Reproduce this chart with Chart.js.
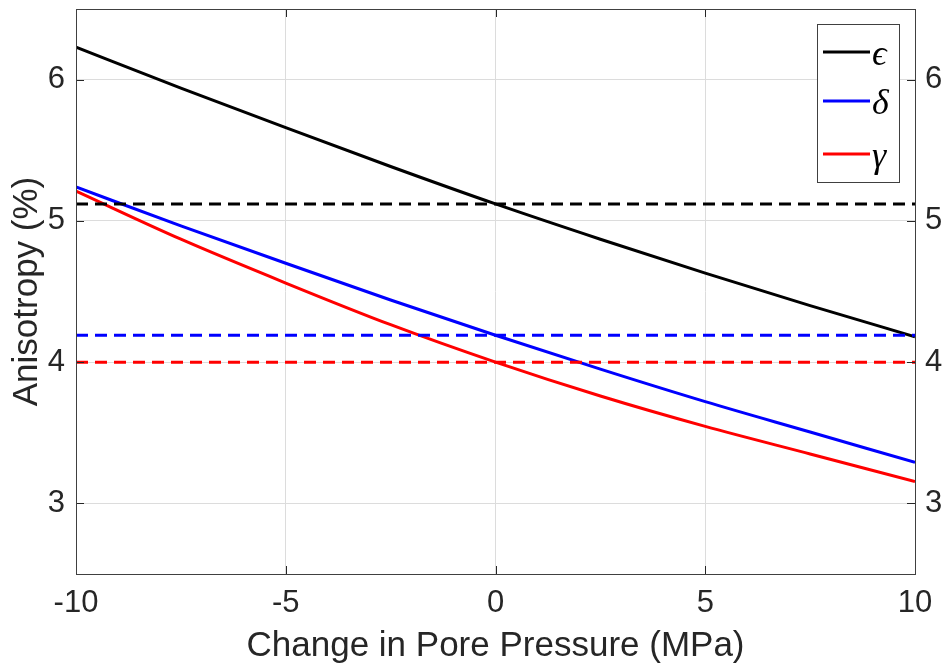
<!DOCTYPE html>
<html>
<head>
<meta charset="utf-8">
<script src="https://cdn.jsdelivr.net/npm/chart.js@4/dist/chart.umd.min.js"></script>
<style>
html,body{margin:0;padding:0;background:#fff;}
#wrap{width:945px;height:667px;position:relative;}
</style>
</head>
<body>
<div id="wrap"><canvas id="c" width="945" height="667"></canvas></div>
<script>
// ---- data ----
const pressure = [-10, -7.5, -5, -2.5, 0, 2.5, 5, 7.5, 10];
const epsilonVals = [6.23, 5.94, 5.66, 5.385, 5.12, 4.87, 4.63, 4.40, 4.18];
const deltaVals   = [5.24, 4.965, 4.70, 4.44, 4.19, 3.95, 3.72, 3.505, 3.29];
const gammaVals   = [5.21, 4.87, 4.56, 4.265, 4.00, 3.76, 3.545, 3.35, 3.155];
const refX = [-10, 10];
const epsilonRef = 5.12;
const deltaRef = 4.19;
const gammaRef = 4.00;
const seriesLabels = ['\u03F5', '\u03B4', '\u03B3'];
const xTicks = [-10, -5, 0, 5, 10];
const yTicks = [3, 4, 5, 6];

const COLORS = ['#000000', '#0000ff', '#ff0000'];
const TXT = '#262626';
const GRID = '#dcdcdc';
const FONT = '"Liberation Sans", Arial, sans-serif';

function pts(xs, ys){ return xs.map((x,i)=>({x:x, y:ys[i]})); }
function flat(v){ return refX.map(x=>({x:x, y:v})); }

const solid = (label, data, color) => ({
  label, data: pts(pressure, data), borderColor: color, backgroundColor: color,
  borderWidth: 3, pointRadius: 0, cubicInterpolationMode: 'monotone', fill: false, isMain: true
});
const dashed = (v, color) => ({
  label: '', data: flat(v), borderColor: color, backgroundColor: color,
  borderWidth: 3, borderDash: [12, 7], pointRadius: 0, fill: false, isMain: false
});

const boxPlugin = {
  id: 'boxPlugin',
  afterDraw(chart){
    const ctx = chart.ctx, a = chart.chartArea;
    const xs = chart.scales.x, ys = chart.scales.y;
    ctx.save();
    ctx.strokeStyle = TXT; ctx.lineWidth = 1;
    const tl = 8;
    ctx.beginPath();
    xTicks.forEach(v=>{
      const px = Math.round(xs.getPixelForValue(v)) + 0.5;
      ctx.moveTo(px, a.bottom); ctx.lineTo(px, a.bottom - tl);
      ctx.moveTo(px, a.top); ctx.lineTo(px, a.top + tl);
    });
    yTicks.forEach(v=>{
      const py = Math.round(ys.getPixelForValue(v)) + 0.5;
      ctx.moveTo(a.left, py); ctx.lineTo(a.left + tl, py);
      ctx.moveTo(a.right, py); ctx.lineTo(a.right - tl, py);
    });
    ctx.stroke();
    ctx.strokeStyle = '#404040';
    ctx.strokeRect(Math.round(a.left)+0.5, Math.round(a.top)+0.5, Math.round(a.right - a.left), Math.round(a.bottom - a.top));
    // legend
    const lx = 817, ly = 24, lw = 82, lh = 158;
    ctx.fillStyle = '#ffffff';
    ctx.fillRect(lx, ly, lw, lh);
    ctx.strokeStyle = '#404040'; ctx.lineWidth = 1;
    ctx.strokeRect(lx + 0.5, ly + 0.5, lw, lh);
    const rows = [52, 101, 154];
    const mains = chart.data.datasets.filter(d=>d.isMain);
    mains.forEach((d,i)=>{
      ctx.strokeStyle = d.borderColor; ctx.lineWidth = 3;
      ctx.beginPath(); ctx.moveTo(823, rows[i]); ctx.lineTo(870, rows[i]); ctx.stroke();
      ctx.fillStyle = '#000';
      ctx.font = 'italic 36px "Liberation Serif", "DejaVu Serif", serif';
      ctx.textAlign = 'left'; ctx.textBaseline = 'middle';
      ctx.fillText(d.label, 872, rows[i] + 4);
    });
    ctx.restore();
  }
};

function noPad(s){ s.paddingTop = 0; s.paddingBottom = 0; }

new Chart(document.getElementById('c'), {
  type: 'line',
  data: {
    datasets: [
      dashed(epsilonRef, COLORS[0]),
      dashed(deltaRef, COLORS[1]),
      dashed(gammaRef, COLORS[2]),
      solid(seriesLabels[0], epsilonVals, COLORS[0]),
      solid(seriesLabels[1], deltaVals, COLORS[1]),
      solid(seriesLabels[2], gammaVals, COLORS[2])
    ]
  },
  options: {
    responsive: false,
    animation: false,
    layout: { autoPadding: false, padding: { top: 9, left: 0, right: 0, bottom: 0 } },
    plugins: { legend: { display: false }, tooltip: { enabled: false } },
    scales: {
      x: {
        type: 'linear', min: -10, max: 10,
        afterBuildTicks(s){ s.ticks = xTicks.map(v=>({value:v})); },
        afterFit(s){ s.height = 93; s.paddingLeft = 0; s.paddingRight = 0; },
        grid: { color: GRID, drawTicks: false, lineWidth: 1 },
        border: { display: false },
        ticks: { color: TXT, padding: 11, font: { family: FONT, size: 31 }, maxRotation: 0, callback: v=>String(v) },
        title: { display: true, text: 'Change in Pore Pressure (MPa)', color: TXT,
          font: { family: FONT, size: 35 }, padding: { top: 0, bottom: 0 } }
      },
      y: {
        type: 'linear', position: 'left', min: 2.5, max: 6.5,
        afterBuildTicks(s){ s.ticks = yTicks.map(v=>({value:v})); },
        afterFit(s){ s.width = 76; noPad(s); },
        grid: { color: GRID, drawTicks: false, lineWidth: 1 },
        border: { display: false },
        ticks: { color: TXT, padding: 11, font: { family: FONT, size: 31 }, callback: v=>String(v) },
        title: { display: true, text: 'Anisotropy (%)', color: TXT,
          font: { family: FONT, size: 35 }, padding: { top: 6, bottom: 0 } }
      },
      y2: {
        type: 'linear', position: 'right', min: 2.5, max: 6.5,
        afterBuildTicks(s){ s.ticks = yTicks.map(v=>({value:v})); },
        afterFit(s){ s.width = 30; noPad(s); },
        grid: { display: false, drawTicks: false },
        border: { display: false },
        ticks: { color: TXT, padding: 10, font: { family: FONT, size: 31 }, callback: v=>String(v) }
      }
    }
  },
  plugins: [boxPlugin]
});
</script>
</body>
</html>
